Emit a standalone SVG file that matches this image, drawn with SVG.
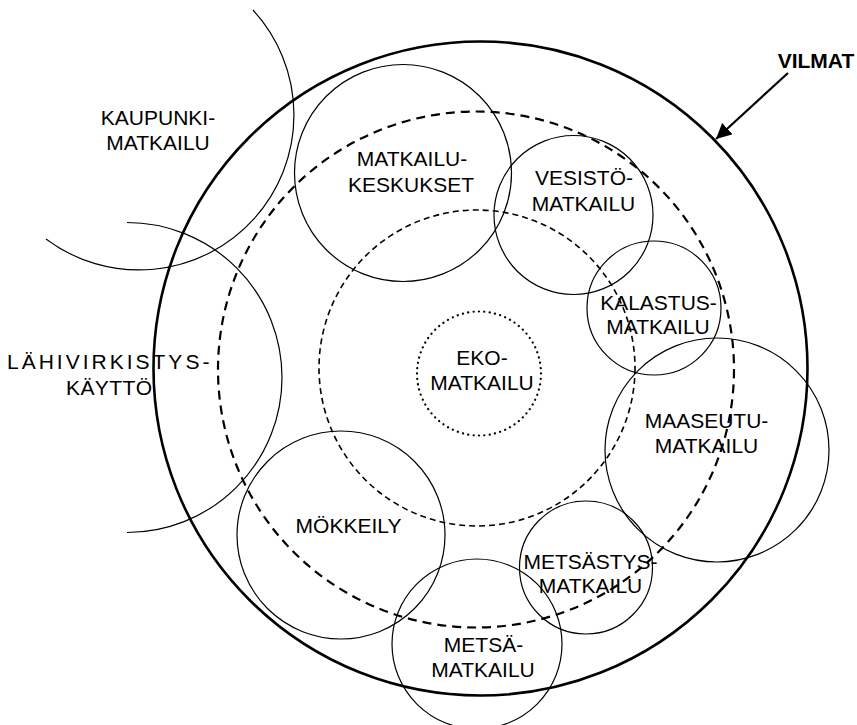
<svg xmlns="http://www.w3.org/2000/svg" width="857" height="725" viewBox="0 0 857 725">
<style>
.t{font-family:"Liberation Sans",Arial,sans-serif;font-size:21px;fill:#000;text-anchor:middle}
.b{font-weight:bold}
.thin{fill:none;stroke:#000;stroke-width:1.2}
.thick{fill:none;stroke:#000;stroke-width:2.6}
.dash1{fill:none;stroke:#000;stroke-width:2.2;stroke-dasharray:9 6}
.dash2{fill:none;stroke:#000;stroke-width:1.6;stroke-dasharray:6 4}
.dot{fill:none;stroke:#000;stroke-width:2.2;stroke-dasharray:0.1 5.3;stroke-linecap:round}
</style>
<defs>
<marker id="ah" viewBox="0 0 10 10" refX="10" refY="5" markerWidth="7" markerHeight="7" markerUnits="strokeWidth" orient="auto">
<path d="M0,0 L10,5 L0,10 z" fill="#000"/>
</marker>
</defs>
<rect width="857" height="725" fill="#fff"/>
<g id="vilmat">
<circle class="thick" cx="480.5" cy="368.5" r="327"/>
<text class="t b" x="816" y="68">VILMAT</text>
</g>
<g id="zone-outer">
<circle class="dash1" cx="476" cy="369.5" r="258"/>
</g>
<g id="zone-inner">
<circle class="dash2" cx="477" cy="368" r="158"/>
</g>
<g id="kaupunkimatkailu">
<path class="thin" d="M253,10 A155,155 0 0 1 46,239"/>
<text class="t" x="158" y="125">KAUPUNKI-</text>
<text class="t" x="158" y="150">MATKAILU</text>
</g>
<g id="lahivirkistyskaytto">
<path class="thin" d="M127,222.5 A155,155 0 1 1 127,532.5"/>
<text class="t" x="7" y="369" style="text-anchor:start;letter-spacing:3px">LÄHIVIRKISTYS-</text>
<text class="t" x="66" y="395" style="text-anchor:start;letter-spacing:0.4px">KÄYTTÖ</text>
</g>
<g id="matkailukeskukset">
<circle class="thin" cx="403" cy="173" r="108.5"/>
<text class="t" x="412" y="166">MATKAILU-</text>
<text class="t" x="411" y="192">KESKUKSET</text>
</g>
<g id="vesistomatkailu">
<circle class="thin" cx="573.5" cy="215" r="79.5"/>
<text class="t" x="584" y="185">VESISTÖ-</text>
<text class="t" x="583.5" y="211">MATKAILU</text>
</g>
<g id="kalastusmatkailu">
<circle class="thin" cx="654" cy="308" r="67"/>
<text class="t" x="658.5" y="310">KALASTUS-</text>
<text class="t" x="658" y="334">MATKAILU</text>
</g>
<g id="ekomatkailu">
<circle class="dot" cx="479" cy="373.5" r="62"/>
<text class="t" x="482" y="365">EKO-</text>
<text class="t" x="482" y="390">MATKAILU</text>
</g>
<g id="maaseutumatkailu">
<circle class="thin" cx="717" cy="450" r="112"/>
<text class="t" x="706.5" y="428">MAASEUTU-</text>
<text class="t" x="706.5" y="453">MATKAILU</text>
</g>
<g id="mokkeily">
<circle class="thin" cx="341" cy="535" r="104"/>
<text class="t" x="348.5" y="533">MÖKKEILY</text>
</g>
<g id="metsastysmatkailu">
<circle class="thin" cx="586" cy="567.5" r="66.5"/>
<text class="t" x="590.5" y="569">METSÄSTYS-</text>
<text class="t" x="590.5" y="593">MATKAILU</text>
</g>
<g id="metsamatkailu">
<circle class="thin" cx="477" cy="644" r="85"/>
<text class="t" x="483.5" y="652">METSÄ-</text>
<text class="t" x="483" y="677">MATKAILU</text>
</g>
<g id="connectors">
<line x1="788" y1="73" x2="716" y2="139" stroke="#000" stroke-width="2.2" marker-end="url(#ah)"/>
</g>
</svg>
